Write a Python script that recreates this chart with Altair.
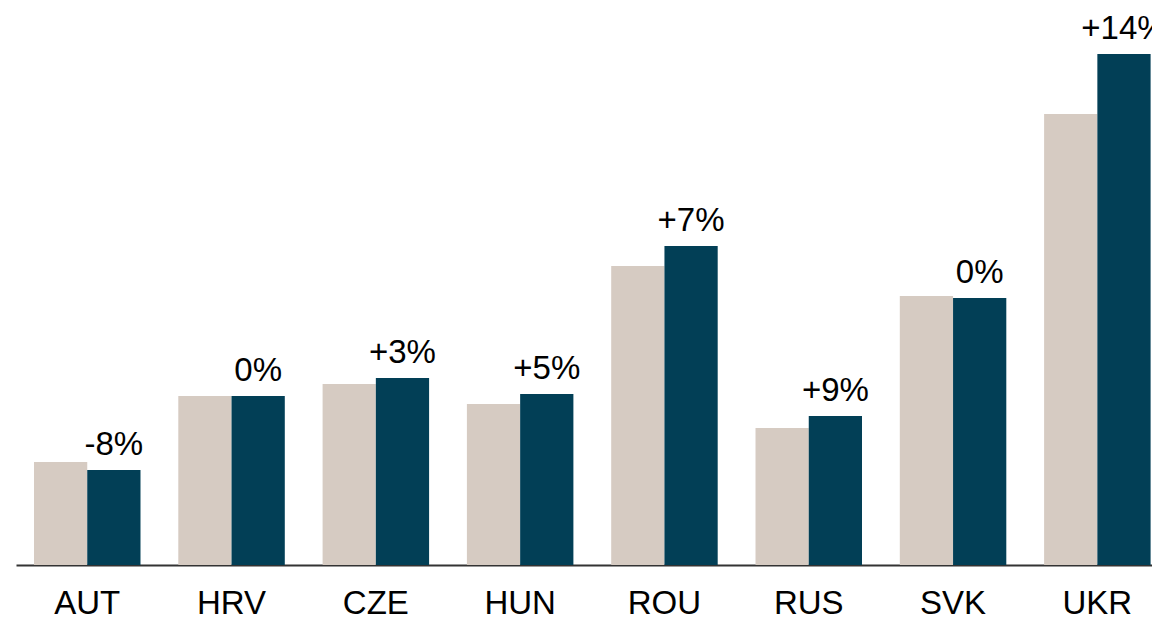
import altair as alt
import pandas as pd

countries = ["AUT", "HRV", "CZE", "HUN", "ROU", "RUS", "SVK", "UKR"]
series = ["Before", "After"]
before_vals = [103, 169, 181, 161, 299, 137, 269, 451]
after_vals = [95, 169, 187, 171, 319, 149, 267, 511]
change_labels = ["-8%", "0%", "+3%", "+5%", "+7%", "+9%", "0%", "+14%"]

rows = []
for c, b, a, lab in zip(countries, before_vals, after_vals, change_labels):
    rows.append({"country": c, "series": series[0], "value": b, "label": ""})
    rows.append({"country": c, "series": series[1], "value": a, "label": lab})
df = pd.DataFrame(rows)

FONT = "Liberation Sans, Arial, sans-serif"

x = alt.X(
    "country:N",
    sort=countries,
    title=None,
    scale=alt.Scale(paddingInner=0.262, paddingOuter=0.0672, align=0.928),
    axis=alt.Axis(
        ticks=False,
        tickSize=0,
        labelAngle=0,
        labelFont=FONT,
        labelFontSize=33,
        labelColor="#000000",
        labelBaseline="alphabetic",
        labelPadding=48,
        domainColor="#333333",
        domainWidth=2,
        grid=False,
    ),
)
xoff = alt.XOffset(
    "series:N",
    sort=series,
    scale=alt.Scale(paddingInner=0, paddingOuter=0),
)
y = alt.Y("value:Q", scale=alt.Scale(domain=[0, 557], nice=False, zero=True), axis=None)

bars = alt.Chart(df).mark_bar().encode(
    x=x,
    xOffset=xoff,
    y=y,
    color=alt.Color(
        "series:N",
        scale=alt.Scale(domain=series, range=["#d6cbc2", "#023f56"]),
        legend=None,
    ),
)

labels = alt.Chart(df).transform_filter(alt.datum.series == series[1]).mark_text(
    font=FONT, fontSize=33, baseline="alphabetic", align="center", dy=-15, color="#000000"
).encode(
    x=x,
    xOffset=xoff,
    y=y,
    text="label:N",
)

chart = (
    alt.layer(bars, labels)
    .properties(
        width=1136,
        height=557,
        autosize=alt.AutoSizeParams(type="none"),
        padding={"left": 8, "top": 0, "right": 0, "bottom": 55},
    )
    .configure_view(stroke=None)
)

chart.save("out.html", embed_options={"renderer": "svg", "actions": False})
